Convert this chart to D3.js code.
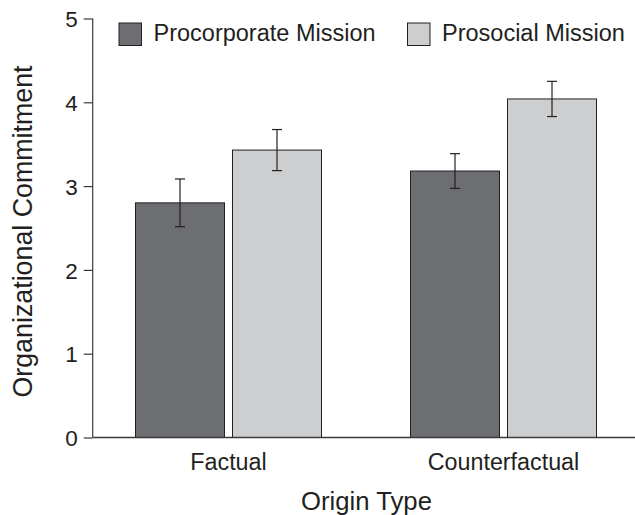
<!DOCTYPE html>
<html><head><meta charset="utf-8">
<script src="https://cdn.jsdelivr.net/npm/d3@7"></script>
<style>body{margin:0;background:#fff}text{font-family:"Liberation Sans",Arial,sans-serif;fill:#231f20}</style>
</head><body>
<svg id="c" width="635" height="515"></svg>
<script>
const categories = ["Factual", "Counterfactual"];
const seriesNames = ["Procorporate Mission", "Prosocial Mission"];
const procorporate = [2.80, 3.18];
const prosocial = [3.43, 4.04];
const procorporateErr = [0.285, 0.207];
const prosocialErr = [0.245, 0.21];
const yTicks = [0, 1, 2, 3, 4, 5];
const colors = ["#6d6e71", "#cdced0"];

const svg = d3.select("#c");
const y = d3.scaleLinear().domain([0, 5]).range([437.5, 18.5]);
const x0 = d3.scaleBand().domain(categories).range([91, 641]).paddingInner(0.3236).paddingOuter(0.1618);
const x1 = d3.scaleBand().domain(seriesNames).range([0, x0.bandwidth()]).paddingInner(0.0825).paddingOuter(0);

const data = [];
categories.forEach((c, i) => {
  data.push({c, s: seriesNames[0], v: procorporate[i], e: procorporateErr[i], col: colors[0]});
  data.push({c, s: seriesNames[1], v: prosocial[i], e: prosocialErr[i], col: colors[1]});
});

svg.selectAll("rect.bar").data(data).enter().append("rect").attr("class","bar")
  .attr("x", d => x0(d.c) + x1(d.s))
  .attr("y", d => y(d.v))
  .attr("width", x1.bandwidth())
  .attr("height", d => y(0) - y(d.v))
  .attr("fill", d => d.col).attr("stroke", "#231f20").attr("stroke-width", 1);

const eb = svg.selectAll("g.err").data(data).enter().append("g").attr("stroke", "#231f20").attr("stroke-width", 1.2);
eb.append("line").attr("x1", d => x0(d.c)+x1(d.s)+x1.bandwidth()/2).attr("x2", d => x0(d.c)+x1(d.s)+x1.bandwidth()/2)
  .attr("y1", d => y(d.v + d.e)).attr("y2", d => y(d.v - d.e));
[1, -1].forEach(sgn => {
  eb.append("line").attr("x1", d => x0(d.c)+x1(d.s)+x1.bandwidth()/2 - 5).attr("x2", d => x0(d.c)+x1(d.s)+x1.bandwidth()/2 + 5)
    .attr("y1", d => y(d.v + sgn*d.e)).attr("y2", d => y(d.v + sgn*d.e));
});

// axes
const yAxis = svg.append("g").attr("transform", "translate(92.7,0)")
  .call(d3.axisLeft(y).tickValues(yTicks).tickSize(9).tickPadding(6).tickFormat(d3.format("d")));
yAxis.select(".domain").attr("d", `M0,${y(5)}V${y(0)}`);
yAxis.selectAll("text").attr("font-size", 22.5).style("font-family", '"Liberation Sans",Arial,sans-serif').attr("fill", "#231f20").attr("dy", "0.36em");
yAxis.selectAll("line, path").attr("stroke", "#3a3a3a").attr("stroke-width", 1.2);

svg.append("line").attr("x1", 92.7).attr("x2", 635).attr("y1", y(0)).attr("y2", y(0)).attr("stroke", "#3a3a3a").attr("stroke-width", 1.4);

svg.selectAll("text.cat").data(categories).enter().append("text").attr("class","cat")
  .attr("x", d => x0(d) + x0.bandwidth()/2).attr("y", 469.5).attr("text-anchor", "middle")
  .attr("font-size", 23.3).text(d => d);

svg.append("text").attr("x", 366.5).attr("y", 510).attr("text-anchor", "middle").attr("font-size", 25.7).text("Origin Type");
svg.append("text").attr("transform", "translate(32,231.5) rotate(-90)").attr("text-anchor", "middle").attr("font-size", 26.8).text("Organizational Commitment");

// legend
const legX = [119, 407.5];
seriesNames.forEach((s, i) => {
  svg.append("rect").attr("x", legX[i]).attr("y", 23).attr("width", 22.5).attr("height", 22.5)
    .attr("fill", colors[i]).attr("stroke", "#231f20").attr("stroke-width", 1);
  svg.append("text").attr("x", legX[i] + 34.5).attr("y", 41).attr("font-size", 23.5).text(s);
});
</script>
</body></html>
